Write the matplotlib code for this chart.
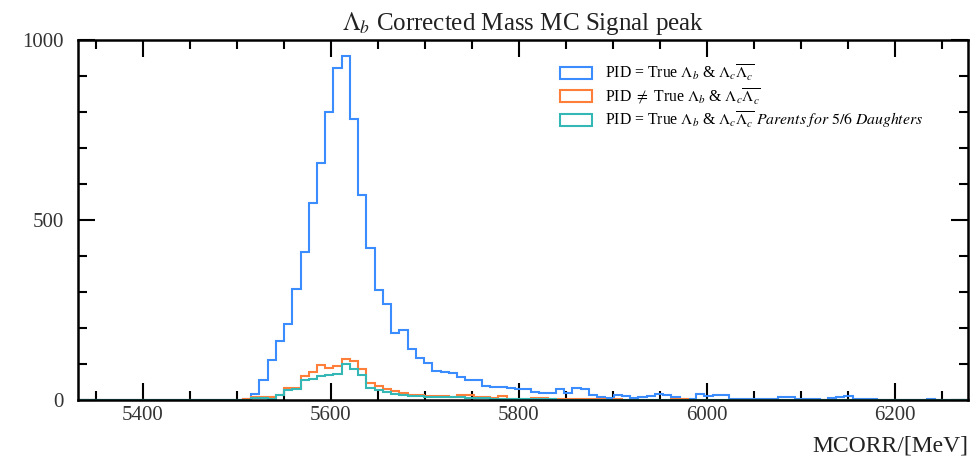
import numpy as np
import matplotlib
matplotlib.use("Agg")
import matplotlib.pyplot as plt
from matplotlib.ticker import MultipleLocator

# ---- data ----
edges = np.linspace(5331, 6278, 109)   # 108 bins

# bin index -> counts (non listed bins are 0)
blue_vals = {
    19: 1, 20: 4, 21: 18, 22: 55, 23: 110, 24: 163, 25: 212, 26: 307, 27: 410,
    28: 546, 29: 659, 30: 801, 31: 921, 32: 955, 33: 780, 34: 569, 35: 423,
    36: 305, 37: 266, 38: 186, 39: 195, 40: 141, 41: 116, 42: 102, 43: 81,
    44: 78, 45: 76, 46: 65, 47: 56, 48: 56, 49: 39, 50: 35, 51: 35, 52: 32,
    53: 30, 54: 30, 55: 23, 56: 19, 57: 19, 58: 30, 59: 19, 60: 32, 61: 30,
    62: 14, 63: 9, 64: 5, 65: 15, 66: 10, 67: 5, 68: 9, 69: 12, 70: 18,
    71: 14, 72: 7, 73: 4, 74: 4, 75: 18, 76: 11, 77: 13, 78: 15, 79: 4,
    80: 4, 81: 4, 82: 4, 83: 4, 84: 4, 85: 9, 86: 8, 87: 4, 88: 3, 89: 2,
    90: 1, 91: 5, 92: 7, 93: 11, 94: 2, 95: 2, 96: 4, 97: 1, 98: 1, 99: 0,
    100: 1, 103: 4,
}
orange_vals = {
    20: 2, 21: 8, 22: 8, 23: 7, 24: 15, 25: 32, 26: 32, 27: 67, 28: 78,
    29: 98, 30: 90, 31: 94, 32: 115, 33: 107, 34: 87, 35: 47, 36: 38, 37: 31,
    38: 25, 39: 20, 40: 14, 41: 14, 42: 12, 43: 12, 44: 11, 45: 9, 46: 14,
    47: 15, 48: 9, 49: 9, 50: 5, 51: 11, 52: 4, 53: 4, 54: 3, 55: 6, 56: 6,
    57: 3, 58: 3, 59: 2, 60: 4, 61: 3, 62: 3, 63: 2, 64: 1, 65: 2, 66: 1,
    68: 1, 72: 2, 73: 3, 78: 1, 85: 1,
}
teal_vals = {
    21: 5, 22: 5, 23: 4, 24: 14, 25: 28, 26: 30, 27: 55, 28: 58, 29: 68,
    30: 70, 31: 73, 32: 100, 33: 85, 34: 70, 35: 32, 36: 28, 37: 22, 38: 18,
    39: 14, 40: 11, 41: 10, 42: 8, 43: 7, 44: 7, 45: 9, 46: 8, 47: 6, 48: 5,
    49: 5, 50: 4, 51: 3, 52: 4, 53: 3, 54: 2, 55: 3, 56: 2, 57: 2, 58: 1,
    60: 1, 61: 1, 63: 1, 66: 1,
}

labels = [
    r"PID = True $\Lambda_b$ & $\Lambda_c\overline{\Lambda_c}$",
    r"PID $\neq$ True $\Lambda_b$ & $\Lambda_c\overline{\Lambda_c}$",
    r"PID = True $\Lambda_b$ & $\Lambda_c\overline{\Lambda_c}$ $Parents\ for\ 5/6\ Daughters$",
]
colors = ["#3a8cff", "#ff7f3a", "#35b8b5"]

nb = len(edges) - 1
def to_array(d):
    a = np.zeros(nb)
    for k, v in d.items():
        a[k] = v
    return a

series = [to_array(blue_vals), to_array(orange_vals), to_array(teal_vals)]
centers = 0.5 * (edges[:-1] + edges[1:])

plt.rcParams["font.family"] = ["Liberation Serif", "DejaVu Serif"]
plt.rcParams["mathtext.fontset"] = "stix"

fig = plt.figure(figsize=(9.72, 4.62), dpi=100)
ax = fig.add_axes([78 / 972, 62 / 462, 890 / 972, 360 / 462])

for vals, c, lab in zip(series, colors, labels):
    ax.hist(centers, bins=edges, weights=vals, histtype="step", color=c,
            linewidth=1.5, label=lab)

ax.set_xlim(edges[0], edges[-1])
ax.set_ylim(0, 1000)
ax.xaxis.set_major_locator(MultipleLocator(200))
ax.xaxis.set_minor_locator(MultipleLocator(50))
ax.yaxis.set_major_locator(MultipleLocator(500))
ax.yaxis.set_minor_locator(MultipleLocator(100))
ax.tick_params(which="both", direction="in", top=True, right=True,
               width=1.5, colors="black", labelcolor="#333333")
ax.tick_params(which="major", length=12, labelsize=15)
ax.tick_params(axis="x", which="major", pad=4)
ax.tick_params(axis="y", which="major", pad=10)
ax.tick_params(which="minor", length=6.5)
for s in ax.spines.values():
    s.set_linewidth(1.8)

ax.set_title(r"$\Lambda_b$ Corrected Mass MC Signal peak", fontsize=18,
             color="#222222", pad=7)
ax.set_xlabel("MCORR/[MeV]", fontsize=17, loc="right", color="#222222",
              labelpad=8)

leg = ax.legend(loc="upper left", bbox_to_anchor=(0.5416, 0.937),
                frameon=False, fontsize=11.3, handlelength=2.05,
                handleheight=0.8, labelspacing=0.22, borderpad=0,
                borderaxespad=0)

fig.savefig("out.png", dpi=100)
